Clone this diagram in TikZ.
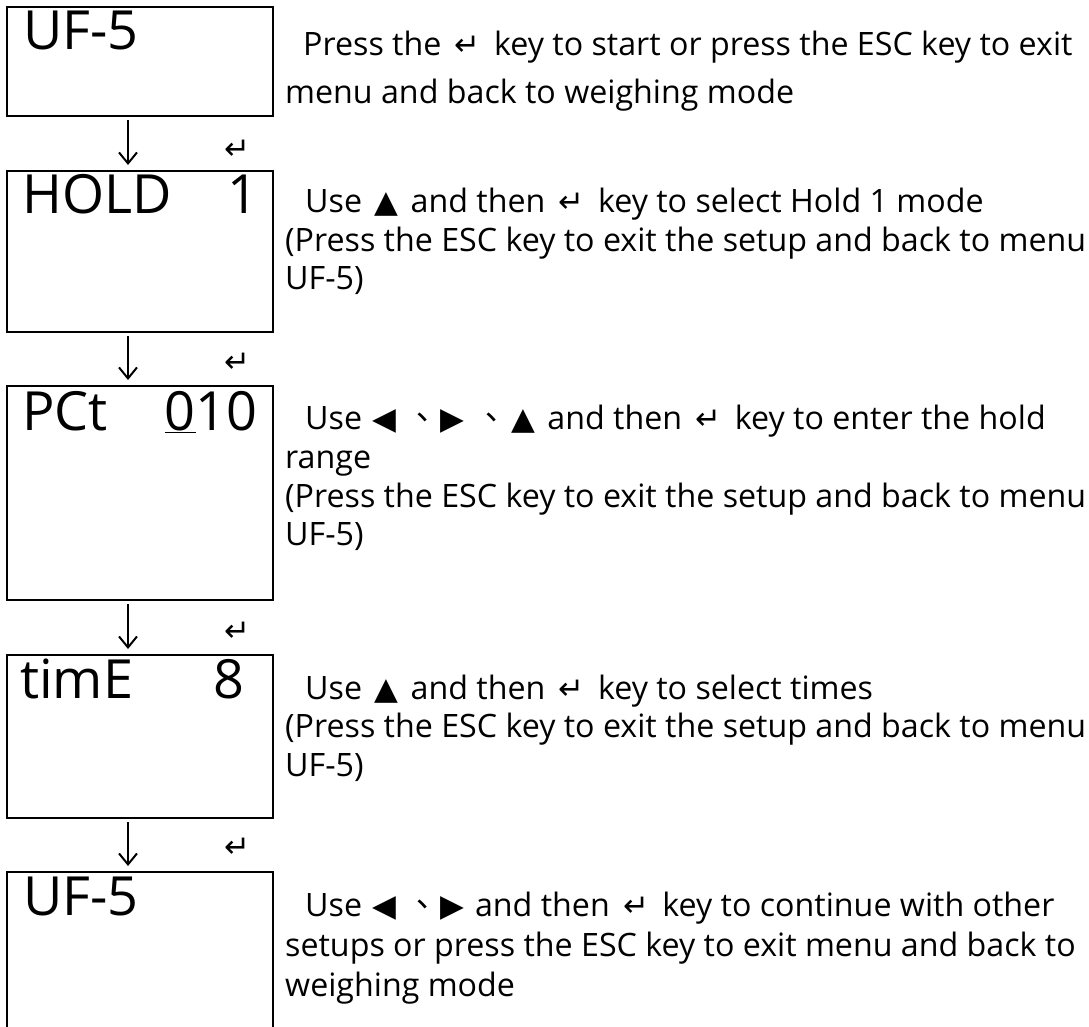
\documentclass[tikz,border=0pt]{standalone}
\usepackage{fontspec}
\setmainfont{Open Sans}
\newfontfamily\symf{DejaVu Sans}
\newfontfamily\cjkf{Noto Sans CJK TC}
\usetikzlibrary{arrows.meta}
\newcommand{\entg}{{\symf\fontsize{31}{31}\selectfont ↵}}
\newcommand{\entk}{\kern5pt\entg\kern5pt}
\newcommand{\trup}{\kern4pt{\symf\fontsize{31}{31}\selectfont ▲}\kern4pt}
\newcommand{\trlf}{\kern2pt{\symf\fontsize{31}{31}\selectfont ◀}\kern2pt}
\newcommand{\trrt}{\kern2pt{\symf\fontsize{31}{31}\selectfont ▶}\kern2pt}
\newcommand{\dun}{{\cjkf 、}}
\begin{document}
\begin{tikzpicture}[x=1pt,y=-1pt,
  lcd/.style={draw, line width=2.6pt, minimum width=266pt, anchor=north west, inner sep=0pt, outer sep=0pt},
  big/.style={anchor=base west, inner sep=0pt, font=\fontsize{54}{54}\selectfont},
  desc/.style={anchor=base west, inner sep=0pt, font=\fontsize{32.2}{32.2}\selectfont},
  arr/.style={line width=2pt, -{Straight Barb[length=11pt,width=18pt,line width=2pt]}},
  ent/.style={inner sep=0pt}]
\useasboundingbox (0,0) rectangle (1089,1027);
\clip (0,0) rectangle (1089,1027);
% boxes
\node[lcd, minimum height=109pt] (b1) at (7,7) {};
\node[lcd, minimum height=161pt] (b2) at (7,171) {};
\node[lcd, minimum height=214pt] (b3) at (7,386) {};
\node[lcd, minimum height=163pt] (b4) at (7,655) {};
\node[lcd, minimum height=170pt] (b5) at (7,872) {};
% display texts
\node[big] (t1) at (23,50) {UF-5};
\node[big] (t2) at (22,213) {HOLD\hspace{56pt}1};
\node[big] (t3) at (22,430) {PCt\hspace{57pt}\underline{0}10};
\node[big] (t4) at (20,698) {timE\hspace{80pt}8};
\node[big] (t5) at (23,915) {UF-5};
% arrows
\draw[arr] ([xshift=-12pt,yshift=-4pt]b1.south) -- ([xshift=-12pt,yshift=6pt]b2.north);
\draw[arr] ([xshift=-12pt,yshift=-4pt]b2.south) -- ([xshift=-12pt,yshift=6pt]b3.north);
\draw[arr] ([xshift=-12pt,yshift=-4pt]b3.south) -- ([xshift=-12pt,yshift=6pt]b4.north);
\draw[arr] ([xshift=-12pt,yshift=-4pt]b4.south) -- ([xshift=-12pt,yshift=6pt]b5.north);
\node[ent] (e1) at (237,150) {\entg};
\node[ent] (e2) at (237,363) {\entg};
\node[ent] (e3) at (237,632) {\entg};
\node[ent] (e4) at (237,848) {\entg};
% descriptions
\node[desc] (d1a) at (285,56) {\hspace*{18pt}Press the \entk\ key to start or press the ESC key to exit};
\node[desc] (d1b) at (285,104) {menu and back to weighing mode};
\node[desc] (d2a) at (285,212) {\hspace*{20pt}Use \trup\ and then \entk\ key to select Hold 1 mode};
\node[desc] (d2b) at (285,251) {(Press the ESC key to exit the setup and back to menu};
\node[desc] (d2c) at (285,289) {UF-5)};
\node[desc] (d3a) at (285,429) {\hspace*{20pt}Use \trlf\ \dun\trrt\ \dun\trup\ and then \entk\ key to enter the hold};
\node[desc] (d3b) at (285,468) {range};
\node[desc] (d3c) at (285,507) {(Press the ESC key to exit the setup and back to menu};
\node[desc] (d3d) at (285,545) {UF-5)};
\node[desc] (d4a) at (285,699) {\hspace*{20pt}Use \trup\ and then \entk\ key to select times};
\node[desc] (d4b) at (285,737) {(Press the ESC key to exit the setup and back to menu};
\node[desc] (d4c) at (285,776) {UF-5)};
\node[desc] (d5a) at (285,916) {\hspace*{20pt}Use \trlf\ \dun\trrt\ and then \entk\ key to continue with other};
\node[desc] (d5b) at (285,956) {setups or press the ESC key to exit menu and back to};
\node[desc] (d5c) at (285,996) {weighing mode};
\end{tikzpicture}
\end{document}
